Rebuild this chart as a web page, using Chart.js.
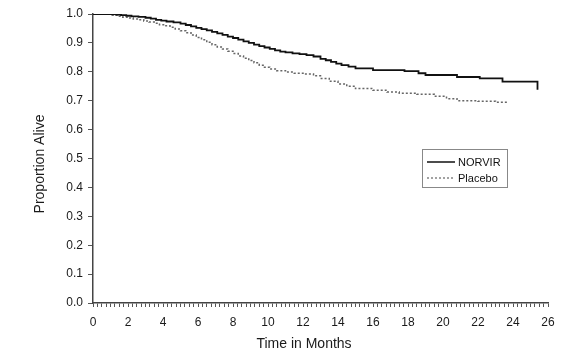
<!DOCTYPE html>
<html>
<head>
<meta charset="utf-8">
<script src="https://cdn.jsdelivr.net/npm/chart.js@4"></script>
<style>
  html, body { margin: 0; padding: 0; background: #fff; }
  #wrap { width: 580px; height: 355px; }
</style>
</head>
<body>
<div id="wrap"><canvas id="c" width="580" height="355"></canvas></div>
<script>
// ---- data ----
const seriesNames = ['NORVIR', 'Placebo'];
const xTitle = 'Time in Months';
const yTitle = 'Proportion Alive';

const norvirTimes = [0, 1.0, 1.3, 1.6, 1.9, 2.2, 2.6, 3.0, 3.3, 3.6, 3.9, 4.2, 4.6, 5.0, 5.3, 5.6, 5.9, 6.2, 6.5, 6.8, 7.1, 7.4, 7.7, 8.0, 8.3, 8.6, 8.9, 9.2, 9.5, 9.8, 10.1, 10.4, 10.7, 11.0, 11.4, 11.8, 12.2, 12.6, 13.0, 13.3, 13.6, 13.9, 14.2, 14.6, 15.0, 16.0, 17.8, 18.6, 19.0, 20.8, 22.1, 23.4, 25.4];
const norvirValues = [1.0, 1.0, 0.998, 0.996, 0.994, 0.992, 0.99, 0.987, 0.984, 0.98, 0.977, 0.974, 0.971, 0.967, 0.962, 0.957, 0.952, 0.948, 0.943, 0.938, 0.933, 0.928, 0.922, 0.917, 0.911, 0.905, 0.9, 0.894, 0.889, 0.884, 0.879, 0.874, 0.87, 0.867, 0.864, 0.861, 0.858, 0.853, 0.845, 0.84, 0.834, 0.828, 0.823, 0.818, 0.812, 0.806, 0.802, 0.795, 0.789, 0.782, 0.777, 0.766, 0.738];

const placeboTimes = [0, 0.8, 1.1, 1.4, 1.7, 2.0, 2.3, 2.6, 2.9, 3.2, 3.5, 3.8, 4.1, 4.4, 4.7, 5.0, 5.3, 5.6, 5.9, 6.2, 6.5, 6.8, 7.1, 7.4, 7.7, 8.0, 8.3, 8.6, 8.9, 9.2, 9.5, 9.8, 10.1, 10.5, 11.0, 11.5, 12.0, 12.6, 13.0, 13.5, 14.0, 14.5, 15.0, 16.0, 16.8, 17.5, 18.5, 19.5, 20.2, 20.8, 22.0, 23.0, 23.7];
const placeboValues = [1.0, 1.0, 0.996, 0.992, 0.989, 0.986, 0.983, 0.98, 0.976, 0.972, 0.968, 0.963, 0.959, 0.954, 0.948, 0.942, 0.935, 0.927, 0.919, 0.911, 0.902, 0.894, 0.886, 0.879, 0.871, 0.863, 0.855, 0.847, 0.839, 0.831, 0.823, 0.816, 0.81, 0.804, 0.799, 0.795, 0.792, 0.786, 0.777, 0.767, 0.758, 0.75, 0.742, 0.736, 0.73, 0.726, 0.722, 0.715, 0.707, 0.7, 0.698, 0.695, 0.692];

const xMin = 0, xMax = 26, xMinorStep = 0.25, xLabelEvery = 2;
const yMin = 0, yMax = 1, yStep = 0.1;

// ---- chart ----
const toPts = (ts, vs) => ts.map((t, i) => ({ x: t, y: vs[i] }));
const FONT = "'Liberation Sans', Arial, sans-serif";

const overlay = {
  id: 'overlay',
  afterDraw(chart) {
    const ctx = chart.ctx;
    ctx.save();
    // axis titles
    ctx.fillStyle = '#1a1a1a';
    ctx.font = '14px ' + FONT;
    ctx.textAlign = 'center';
    ctx.textBaseline = 'middle';
    ctx.fillText(xTitle, 304, 344);
    ctx.save();
    ctx.translate(40, 164);
    ctx.rotate(-Math.PI / 2);
    ctx.fillText(yTitle, 0, 0);
    ctx.restore();

    // legend box
    const bx = 422.5, by = 149.5, bw = 85, bh = 38;
    ctx.strokeStyle = '#888';
    ctx.lineWidth = 1;
    ctx.strokeRect(bx, by, bw, bh);
    ctx.font = '11px ' + FONT;
    ctx.textAlign = 'left';
    const rows = [162, 178];
    chart.data.datasets.forEach((ds, i) => {
      const y = rows[i];
      ctx.beginPath();
      ctx.setLineDash(ds.borderDash || []);
      ctx.strokeStyle = ds.borderColor;
      ctx.lineWidth = i === 0 ? 1.5 : 1.2;
      ctx.moveTo(427, y);
      ctx.lineTo(455, y);
      ctx.stroke();
      ctx.setLineDash([]);
      ctx.fillStyle = '#111';
      ctx.fillText(ds.label, 458, y + 1);
    });
    ctx.restore();
  }
};

new Chart(document.getElementById('c'), {
  type: 'line',
  data: {
    datasets: [
      {
        label: seriesNames[0],
        data: toPts(norvirTimes, norvirValues),
        stepped: true,
        borderColor: '#111',
        borderWidth: 1.8,
        pointRadius: 0,
        fill: false
      },
      {
        label: seriesNames[1],
        data: toPts(placeboTimes, placeboValues),
        stepped: true,
        borderColor: '#666',
        borderWidth: 1.5,
        borderDash: [2, 2],
        pointRadius: 0,
        fill: false
      }
    ]
  },
  options: {
    responsive: false,
    animation: false,
    devicePixelRatio: 1,
    layout: { padding: { top: 14, right: 32, left: 0, bottom: 0 } },
    plugins: { legend: { display: false }, tooltip: { enabled: false } },
    scales: {
      x: {
        type: 'linear',
        min: xMin, max: xMax,
        afterFit(s) { s.height = 52; },
        border: { display: true, color: '#444', width: 1.5 },
        grid: { drawOnChartArea: false, drawTicks: true, tickLength: 4, color: '#555', lineWidth: 1 },
        ticks: {
          stepSize: xMinorStep,
          autoSkip: false,
          maxRotation: 0,
          padding: 8,
          color: '#1a1a1a',
          font: { family: FONT, size: 12 },
          callback: v => (Math.abs(v / xLabelEvery - Math.round(v / xLabelEvery)) < 1e-6 ? String(Math.round(v)) : '')
        }
      },
      y: {
        min: yMin, max: yMax,
        afterFit(s) { s.width = 93; },
        border: { display: true, color: '#444', width: 1.5 },
        grid: { drawOnChartArea: false, drawTicks: true, tickLength: 5, color: '#555', lineWidth: 1 },
        ticks: {
          stepSize: yStep,
          padding: 5,
          color: '#1a1a1a',
          font: { family: FONT, size: 12 },
          callback: v => v.toFixed(1)
        }
      }
    }
  },
  plugins: [overlay]
});
</script>
</body>
</html>
